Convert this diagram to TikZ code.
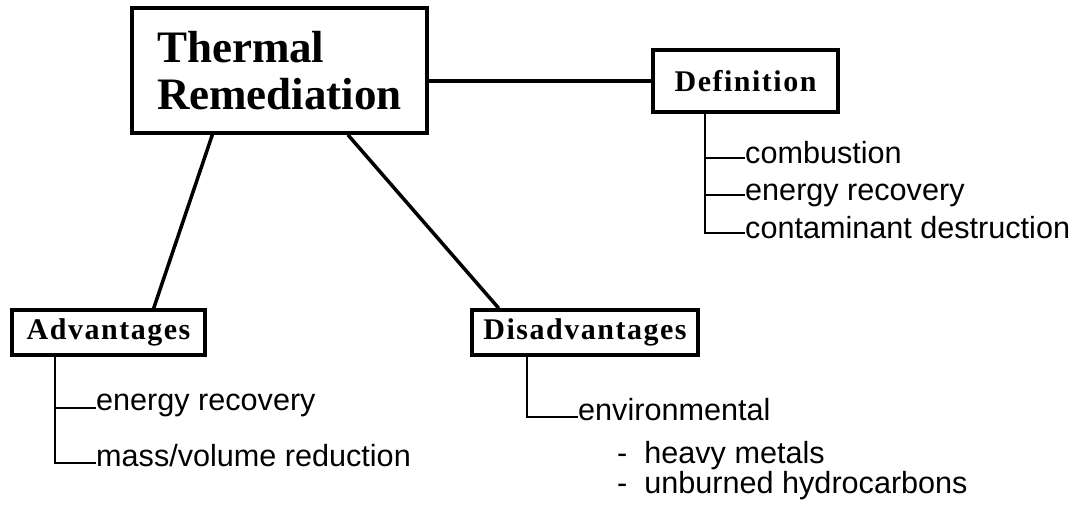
\documentclass[tikz,border=0pt]{standalone}
\usepackage{fontspec}
\setmainfont{Liberation Serif}
\setsansfont{Liberation Sans}
\newfontfamily\boxfont[LetterSpace=5]{Liberation Serif Bold}
\usetikzlibrary{calc}
\tikzset{
  box/.style={draw, line width=3.5pt, inner sep=0pt, fill=white},
  conn/.style={line width=3.5pt},
  tree/.style={line width=2.5pt},
  leaf/.style={anchor=mid west, inner sep=0pt, font=\sffamily\fontsize{30.6}{32}\selectfont},
  sub/.style={anchor=base west, inner sep=0pt, font=\sffamily\fontsize{30.6}{32}\selectfont},
  label/.style={font=\fontsize{30}{32}\selectfont\boxfont}
}
\begin{document}
\begin{tikzpicture}[x=1pt,y=-1pt]
\useasboundingbox (0,0) rectangle (1081,511);
% boxes
\node[box, minimum width=295pt, minimum height=125pt, align=left,
      font=\bfseries\fontsize{45}{47}\selectfont] (main) at (279.5,70.5) {Thermal\\Remediation};
\node[box, label, minimum width=185pt, minimum height=62pt] (def) at (745.5,81) {Definition};
\node[box, label, minimum width=193pt, minimum height=45pt] (adv) at (108.5,332.5) {Advantages};
\node[box, label, minimum width=226pt, minimum height=45pt] (dis) at (585,332.5) {Disadvantages};
% connectors
\draw[conn] (def.west -| main.east) -- (def.west);
\draw[conn] ($(main.south west)!0.275!(main.south east)$) -- ($(adv.north west)!0.73!(adv.north east)$);
\draw[conn] ($(main.south west)!0.729!(main.south east)$) -- ($(dis.north west)!0.124!(dis.north east)$);
% definition tree
\coordinate (d0) at (705,112);
\node[leaf] (c1) at (745,161) {combustion};
\node[leaf] (c2) at (745,198) {energy recovery};
\node[leaf] (c3) at (745,236) {contaminant destruction};
\draw[tree] (d0) |- ([yshift=3pt]c3.mid west);
\draw[tree] (d0) |- ([yshift=3pt]c2.mid west);
\draw[tree] (d0) |- ([yshift=3pt]c1.mid west);
% advantages tree
\coordinate (a0) at (55,355);
\node[leaf] (a1) at (96,408) {energy recovery};
\node[leaf] (a2) at (96,464) {mass/volume reduction};
\draw[tree] (a0) |- ([yshift=1pt]a2.mid west);
\draw[tree] (a0) |- (a1.mid west);
% disadvantages tree
\coordinate (s0) at (527,355);
\node[leaf] (e1) at (578,418) {environmental};
\draw[tree] (s0) |- ([yshift=1pt]e1.mid west);
\node[sub] (h1) at (617,463) {-~~heavy metals};
\node[sub] (h2) at (617,493) {-~~unburned hydrocarbons};
\end{tikzpicture}
\end{document}
